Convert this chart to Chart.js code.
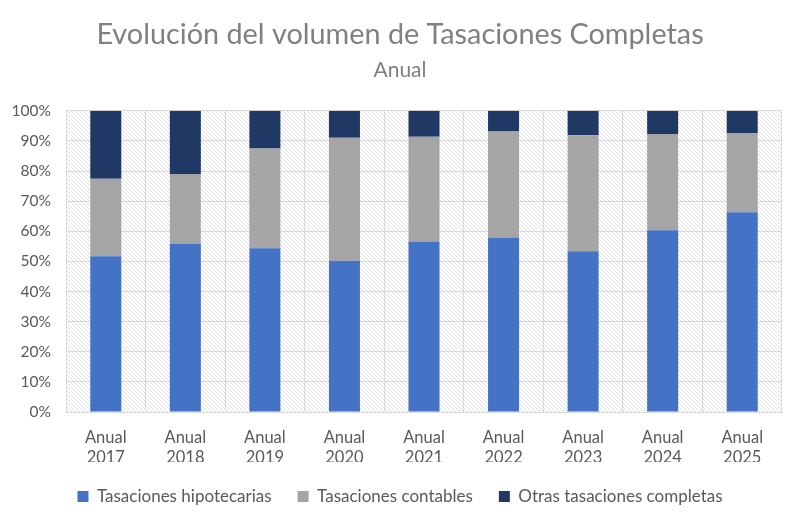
<!doctype html>
<html lang="es">
<head>
<meta charset="utf-8">
<title>Evolución del volumen de Tasaciones Completas</title>
<script src="https://cdn.jsdelivr.net/npm/chart.js@4/dist/chart.umd.min.js"></script>
<style>
  html, body { margin: 0; padding: 0; background: #fff; }
  #wrap { width: 800px; height: 524px; }
</style>
</head>
<body>
<div id="wrap"><canvas id="chart" width="800" height="524"></canvas></div>
<script>
// data (share of total, %)
var years = [["Anual", "2017"], ["Anual", "2018"], ["Anual", "2019"], ["Anual", "2020"], ["Anual", "2021"],
             ["Anual", "2022"], ["Anual", "2023"], ["Anual", "2024"], ["Anual", "2025"]];
var hipotecarias = [51.7, 55.8, 54.4, 50.2, 56.6, 57.9, 53.4, 60.3, 66.3];
var contables    = [25.7, 23.2, 33.1, 40.8, 34.8, 35.2, 38.5, 32.0, 26.3];
var otras        = [22.6, 21.0, 12.5,  9.0,  8.6,  6.9,  8.1,  7.7,  7.4];

var textGrey = "#595959";
var font = "Lato, 'Open Sans', sans-serif";

// hatched background for the plot area
function makeHatch() {
  var c = document.createElement("canvas");
  c.width = 4; c.height = 4;
  var g = c.getContext("2d");
  g.fillStyle = "#ffffff";
  g.fillRect(0, 0, 4, 4);
  g.strokeStyle = "#dedede";
  g.lineWidth = 0.9;
  g.beginPath();
  g.moveTo(-1, -1); g.lineTo(5, 5);
  g.moveTo(-1, 3); g.lineTo(1, 5);
  g.moveTo(3, -1); g.lineTo(5, 1);
  g.stroke();
  return g.createPattern(c, "repeat");
}

var hatchBg = {
  id: "hatchBg",
  beforeDraw: function (chart) {
    var a = chart.chartArea, ctx = chart.ctx;
    ctx.save();
    ctx.fillStyle = makeHatch();
    ctx.fillRect(a.left, a.top, a.right - a.left, a.bottom - a.top);
    ctx.restore();
  }
};

var ctx = document.getElementById("chart").getContext("2d");
var myChart = new Chart(ctx, {
  type: "bar",
  data: {
    labels: years,
    datasets: [
      { label: "Tasaciones hipotecarias", data: hipotecarias, backgroundColor: "#4472C4" },
      { label: "Tasaciones contables", data: contables, backgroundColor: "#A5A5A5" },
      { label: "Otras tasaciones completas", data: otras, backgroundColor: "#203864" }
    ]
  },
  options: {
    responsive: false,
    animation: false,
    devicePixelRatio: 1,
    layout: { padding: { left: 0, right: 0, top: 0, bottom: 9 } },
    datasets: { bar: { barPercentage: 0.39, categoryPercentage: 1.0 } },
    plugins: {
      title: {
        display: true,
        text: "Evolución del volumen de Tasaciones Completas",
        color: "#808080",
        font: { family: font, size: 28.8, weight: "normal" },
        padding: { top: 17, bottom: 6 }
      },
      subtitle: {
        display: true,
        text: "Anual",
        color: "#808080",
        font: { family: font, size: 21, weight: "normal" },
        padding: { top: 0, bottom: 28 }
      },
      legend: {
        position: "bottom",
        labels: {
          color: textGrey,
          font: { family: font, size: 17 },
          boxWidth: 11,
          boxHeight: 11,
          padding: 26
        }
      },
      tooltip: { enabled: false }
    },
    scales: {
      x: {
        stacked: true,
        grid: { color: "#d9d9d9", offset: true, drawTicks: false },
        border: { color: "#d9d9d9" },
        ticks: { color: textGrey, font: { family: font, size: 16.5 }, padding: 16, maxRotation: 0 },
        afterFit: function (s) { s.height = 50; }
      },
      y: {
        stacked: true,
        min: 0,
        max: 100,
        grid: { color: "#d9d9d9", drawTicks: false },
        border: { color: "#d9d9d9" },
        ticks: {
          stepSize: 10,
          color: textGrey,
          font: { family: font, size: 15.5 },
          padding: 15,
          callback: function (v) { return v + "%"; }
        },
        afterFit: function (s) { s.width = 66; }
      },
      // empty right axis, only keeps the white margin on the right
      yRight: {
        position: "right",
        min: 0,
        max: 100,
        grid: { display: false },
        border: { display: false },
        ticks: { display: false },
        afterFit: function (s) { s.width = 18; }
      }
    }
  },
  plugins: [hatchBg]
});
</script>
</body>
</html>
